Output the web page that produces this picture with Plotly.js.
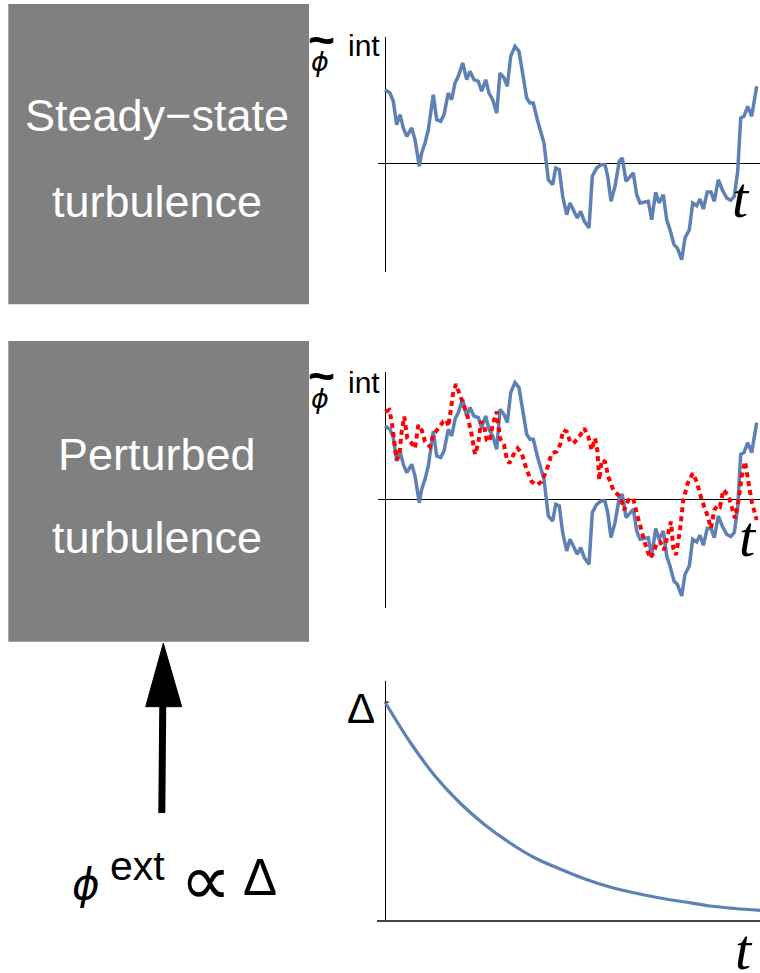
<!DOCTYPE html>
<html>
<head>
<meta charset="utf-8">
<script src="https://cdn.plot.ly/plotly-3.0.1.min.js"></script>
<style>html,body{margin:0;padding:0;background:#fff;}#chart{width:760px;height:973px;}</style>
</head>
<body>
<div id="chart"></div>
<script>
// Steady-state fluctuation (blue) — time and amplitude
const tBlue = [0,5,8.3,11.7,15,18.3,21.7,26.7,30,34.3,
  36.7,40,43.3,48.3,51.7,55.7,59,63.3,66.7,70,
  73.3,77.7,81.7,85,89,93.3,96.7,100.7,104,107.7,
  111.7,115,119,122.3,125.7,130,134,138.3,141.7,145,
  148.3,152.3,155.7,159,163.3,167.7,170.7,174.3,177.7,181.7,
  185,189,192.3,195.7,199.3,204,207.3,211.7,216,220,
  222.7,226,230,234.3,237.3,241,244.3,248.3,251.7,255,
  259,263.3,266.7,270.7,274,278.3,281.7,285,289,292.3,
  296.7,300,304.3,307.7,311.7,315,318.3,322.3,326,329.3,
  333.3,337.3,341.7,345.7,349.3,352.7,355.7,359,362.7,366.7,
  371.7];
const phiBlue = [73.3,70,61.7,38.3,48.3,35,26.7,35,23.3,-3.3,
  10,20,33.3,68.3,43.3,41.7,48.3,70,63.3,80,
  86.7,100,83.3,91.7,83.3,81.7,71.7,83.3,70,63.3,
  50,90,85,76.7,106.7,116.7,111.7,83.3,65,60,
  60,43.3,30,20,-16.7,-21.7,-5,-6.7,-33.3,-51.7,
  -40,-48.3,-55,-48.3,-58.3,-65,-13.3,-5,-1.7,-1.7,
  -13.3,-38.3,-23.3,1.7,5,-18.3,-15,-10,-31.7,-40,
  -39.3,-38.3,-56.7,-29.3,-40,-31.7,-56.7,-66.7,-81.7,-85,
  -96.7,-75,-66.7,-40,-42.7,-36,-46,-29,-29,-38.3,
  -16.7,-26.7,-35,-37.3,-33.3,-8.3,45,46.7,56.7,46.7,
  76.7];

// Perturbed fluctuation (red dotted)
const tRed = [0,4.3,6.7,9,11.7,14.3,16.7,19.3,22.3,26.7,
  30,33.3,36.7,40,45,48.3,53.3,58.3,61.7,63.3,
  66,68.3,71,75,78.3,82.3,86.7,90,93.3,96,
  99,101.7,104.3,107.7,111.7,115,119,121.7,124.3,128.3,
  132.7,136.7,141.7,146.7,151.7,156.7,161.7,166.7,171.7,175,
  178.3,181.7,185,188.3,193.3,199.3,203.3,206.7,210,212.3,
  214.3,216.7,220,223.3,228.3,233.3,236.7,239.3,243.3,248.3,
  251.7,255,260,265,268.3,271.7,275,279,283.3,286,
  288.3,291,295,298.3,302.7,307.7,311.7,316.7,321.7,326,
  329.3,332.7,335,338.3,343.3,346.7,350,353.3,356.7,360,
  363.3,366.7,371.7];
const phiRed = [87.7,89.3,77.7,57.7,39.3,44.3,67.7,82.7,61,56,
  51,74.3,69.3,57.7,52.7,64.3,71,77.7,79.3,72.7,
  91,107.7,115,104.3,97.7,84.3,64.3,45,56,77.7,
  74.3,59.3,57.7,74.3,87.7,61,54.3,41,36,44.3,
  51,46,29.3,17.7,14.3,17.7,29.3,46,47.7,54.3,
  69.3,67.7,57.7,56,61,71,62.7,49.3,61,49.3,
  19.3,39.3,37.7,22.7,9.3,4.3,-2.3,-10.7,-0.7,1,
  -14,-27.3,-44,-59,-54,-44,-42.3,-50.7,-32.3,-22.3,
  -49,-55.7,-30.7,-0.7,16,26,17.7,-0.7,-14,-29,
  -10.7,-5.7,-7.3,9.3,4.3,-7.3,-19,-2.3,22.7,37.7,
  19.3,-2.3,-20.7];

// Decaying perturbation amplitude
const tDecay = [0,25,50,75,100,125,150,175,200,225,250,275,300,325,350,375];
const delta  = [219,179,145,118,96,78,63,52,42,34,28,23,19,15,12.5,10.7];

const boxLabels = [["Steady\u2212state","turbulence"],["Perturbed","turbulence"]];

const W = 760, H = 973;
const px = x => x / W;
const py = y => 1 - y / H;

const BLUE = '#5e81b5';

const traces = [
  {x: tBlue, y: phiBlue, xaxis: 'x', yaxis: 'y', mode: 'lines',
   line: {color: BLUE, width: 3.5}, hoverinfo: 'skip'},
  {x: tBlue, y: phiBlue, xaxis: 'x2', yaxis: 'y2', mode: 'lines',
   line: {color: BLUE, width: 3.5}, hoverinfo: 'skip'},
  {x: tRed, y: phiRed, xaxis: 'x2', yaxis: 'y2', mode: 'lines',
   line: {color: '#ff0000', width: 4, dash: '5px,4px'}, hoverinfo: 'skip'},
  {x: tDecay, y: delta, xaxis: 'x3', yaxis: 'y3', mode: 'lines',
   line: {color: BLUE, width: 3.2, shape: 'spline'}, hoverinfo: 'skip'}
];

function ax(extra) {
  return Object.assign({
    showgrid: false, showticklabels: false, ticks: '', showline: false,
    zeroline: true, zerolinecolor: '#000', zerolinewidth: 1, fixedrange: true
  }, extra);
}

const SANS = 'Liberation Sans, Arial, sans-serif';
const ann = [];
function txt(text, x, y, size, opts) {
  ann.push(Object.assign({
    text: text, x: px(x), y: py(y), xref: 'paper', yref: 'paper',
    xanchor: 'center', yanchor: 'middle', showarrow: false,
    font: {family: SANS, size: size, color: '#000'}
  }, opts || {}));
}

// box labels
const boxFont = {family: SANS, size: 45, color: '#fff'};
txt(boxLabels[0][0], 157, 115.5, 45, {font: boxFont});
txt(boxLabels[0][1], 157, 201.5, 45, {font: boxFont});
txt(boxLabels[1][0], 157, 454.8, 45, {font: boxFont});
txt(boxLabels[1][1], 157, 537.5, 45, {font: boxFont});

// phi-tilde-int labels
[0, 336.3].forEach(dy => {
  txt('<b>~</b>', 321, 40 + dy, 46, {font: {family: SANS, size: 46, color: '#000'}});
  txt('\u03D5', 320, 62 + dy, 27, {font: {family: 'DejaVu Sans', size: 27, color: '#000', style: 'italic'}});
  txt('int', 363.5, 46 + dy, 30);
});

// t labels
const SERIF = 'Liberation Serif, Times New Roman, serif';
const tFont = {family: SERIF, size: 58, color: '#000', style: 'italic'};
txt('t', 741, 197, 58, {font: tFont});
txt('t', 748, 536, 58, {font: tFont});
txt('t', 744, 949, 58, {font: tFont});

// Delta label for bottom axis
txt('\u0394', 361, 708.4, 42);

// phi^ext ∝ Δ
txt('\u03D5', 86, 884, 42, {font: {family: 'DejaVu Sans', size: 42, color: '#000', style: 'italic'}});
txt('ext', 137.5, 866, 41);
txt('\u221D', 205, 880, 72, {font: {family: 'DejaVu Sans', size: 72, color: '#000'}});
txt('\u0394', 259.5, 877, 51);

const shapes = [
  {type: 'rect', xref: 'paper', yref: 'paper', x0: px(8.3), x1: px(309), y0: py(304.3), y1: py(4),
   fillcolor: '#808080', line: {width: 0}, layer: 'below'},
  {type: 'rect', xref: 'paper', yref: 'paper', x0: px(8.3), x1: px(309), y0: py(641.7), y1: py(341),
   fillcolor: '#808080', line: {width: 0}, layer: 'below'},
  // arrow shaft
  {type: 'line', xref: 'paper', yref: 'paper', x0: px(161.8), x1: px(162.8), y0: py(813), y1: py(700),
   line: {color: '#000', width: 7}},
  // arrow head
  {type: 'path', xref: 'paper', yref: 'paper',
   path: 'M ' + px(145.7) + ' ' + py(706.7) + ' L ' + px(163.3) + ' ' + py(643.3) + ' L ' + px(181.7) + ' ' + py(706.7) + ' Z',
   fillcolor: '#000', line: {color: '#000', width: 1}},
  // small tick at Δ on bottom axis
  {type: 'line', xref: 'x3', yref: 'y3', x0: tDecay[0], x1: tDecay[0] + 4, y0: delta[0], y1: delta[0],
   line: {color: '#000', width: 1}}
];

const layout = {
  width: W, height: H,
  margin: {l: 0, r: 0, t: 0, b: 0, pad: 0},
  paper_bgcolor: '#fff', plot_bgcolor: 'rgba(0,0,0,0)',
  showlegend: false,
  xaxis:  ax({domain: [px(378), 1], range: [-7, 375], anchor: 'y'}),
  yaxis:  ax({domain: [py(272), py(37)], range: [-109, 126], anchor: 'x'}),
  xaxis2: ax({domain: [px(378), 1], range: [-7, 375], anchor: 'y2'}),
  yaxis2: ax({domain: [py(608), py(372)], range: [-108.7, 127.3], anchor: 'x2'}),
  xaxis3: ax({domain: [px(376.7), 1], range: [-8.3, 375], anchor: 'y3'}),
  yaxis3: ax({domain: [py(922), py(681)], range: [-1, 240], anchor: 'x3', zerolinecolor: '#444', zerolinewidth: 1.5}),
  shapes: shapes,
  annotations: ann
};

Plotly.newPlot('chart', traces, layout, {staticPlot: true, displayModeBar: false});
</script>
</body>
</html>
